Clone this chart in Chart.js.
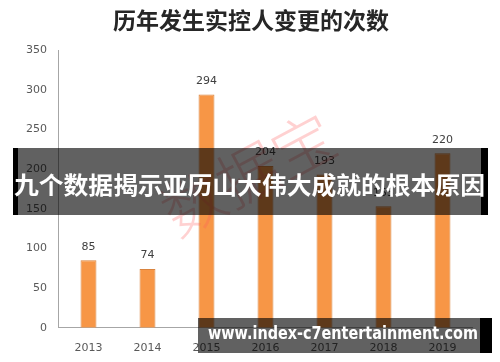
<!DOCTYPE html>
<html>
<head>
<meta charset="utf-8">
<script src="https://cdn.jsdelivr.net/npm/chart.js@4"></script>
<style>
  html, body { margin: 0; padding: 0; background: #fff; }
  canvas { display: block; }
</style>
</head>
<body>
<canvas id="chart" width="500" height="362"></canvas>
<script>
const years = ["2013", "2014", "2015", "2016", "2017", "2018", "2019"];
const changeCounts = [85, 74, 294, 204, 193, 153, 220];
const yTicks = [0, 50, 100, 150, 200, 250, 300, 350];

const chartTitle = "历年发生实控人变更的次数";
const bannerText = "九个数据揭示亚历山大伟大成就的根本原因";
const siteText = "www.index-c7entertainment.com";
const watermarkText = "数据宝";

const cjk = "'Noto Sans CJK SC', 'Noto Sans', sans-serif";

// title centred on the page + value labels above bars
const valueLabels = {
  id: "valueLabels",
  afterDatasetsDraw(chart) {
    const ctx = chart.ctx;
    const meta = chart.getDatasetMeta(0);
    ctx.save();
    ctx.font = "bold 23px " + cjk;
    ctx.fillStyle = "#262626";
    ctx.textAlign = "center";
    ctx.textBaseline = "middle";
    ctx.fillText(chartTitle, 251, 20);

    ctx.font = "11px 'DejaVu Sans', sans-serif";
    ctx.fillStyle = "#404040";
    ctx.textBaseline = "bottom";
    meta.data.forEach((bar, i) => {
      ctx.fillText(changeCounts[i], bar.x, bar.y - 8);
    });
    ctx.restore();
  },
};

// watermark and the two dark overlay banners
const overlays = {
  id: "overlays",
  afterDraw(chart) {
    const ctx = chart.ctx;
    ctx.save();

    // watermark
    ctx.translate(248, 174);
    ctx.rotate(-28 * Math.PI / 180);
    ctx.font = "300 62px " + cjk;
    ctx.fillStyle = "rgba(255, 90, 90, 0.28)";
    ctx.textAlign = "center";
    ctx.textBaseline = "middle";
    ctx.fillText(watermarkText, 0, 0);
    ctx.setTransform(1, 0, 0, 1, 0, 0);

    // middle banner
    ctx.fillStyle = "rgba(0, 0, 0, 0.62)";
    ctx.fillRect(13, 148, 475, 67);
    ctx.fillStyle = "#000";
    ctx.fillRect(13, 148, 5, 67);
    ctx.fillRect(481, 148, 7, 67);
    ctx.font = "bold 24px " + cjk;
    let w = ctx.measureText(bannerText).width;
    ctx.fillStyle = "#fff";
    ctx.textAlign = "left";
    ctx.textBaseline = "middle";
    ctx.save();
    ctx.translate(14, 185);
    ctx.scale(471 / w, 1);
    ctx.fillText(bannerText, 0, 0);
    ctx.restore();

    // bottom banner
    ctx.fillStyle = "rgba(0, 0, 0, 0.62)";
    ctx.fillRect(198, 318, 294, 35);
    ctx.fillStyle = "#000";
    ctx.fillRect(480, 318, 12, 35);
    ctx.font = "bold 17px 'DejaVu Sans', sans-serif";
    w = ctx.measureText(siteText).width;
    ctx.fillStyle = "#fff";
    ctx.save();
    ctx.translate(208, 335);
    ctx.scale(270 / w, 1);
    ctx.fillText(siteText, 0, 0);
    ctx.restore();

    ctx.restore();
  },
};

new Chart(document.getElementById("chart"), {
  type: "bar",
  data: {
    labels: years,
    datasets: [
      {
        data: changeCounts,
        backgroundColor: "#F79646",
        borderColor: "#D9843F",
        borderWidth: 1,
        barPercentage: 0.27,
        categoryPercentage: 1,
      },
    ],
  },
  options: {
    responsive: false,
    animation: false,
    devicePixelRatio: 1,
    layout: { padding: { left: 14, right: 28, top: 50, bottom: -7 } },
    plugins: {
      legend: { display: false },
      tooltip: { enabled: false },
      title: { display: false },
    },
    scales: {
      x: {
        grid: { display: false, drawTicks: false },
        border: { display: true, color: "#a6a6a6" },
        ticks: {
          color: "#595959",
          font: { family: "'DejaVu Sans', sans-serif", size: 11 },
          padding: 14,
        },
      },
      y: {
        min: 0,
        max: 350,
        afterBuildTicks: (axis) => {
          axis.ticks = yTicks.map((v) => ({ value: v }));
        },
        grid: { display: false, drawTicks: false },
        border: { display: true, color: "#a6a6a6" },
        ticks: {
          color: "#595959",
          font: { family: "'DejaVu Sans', sans-serif", size: 11 },
          padding: 12,
        },
      },
    },
  },
  plugins: [valueLabels, overlays],
});
</script>
</body>
</html>
